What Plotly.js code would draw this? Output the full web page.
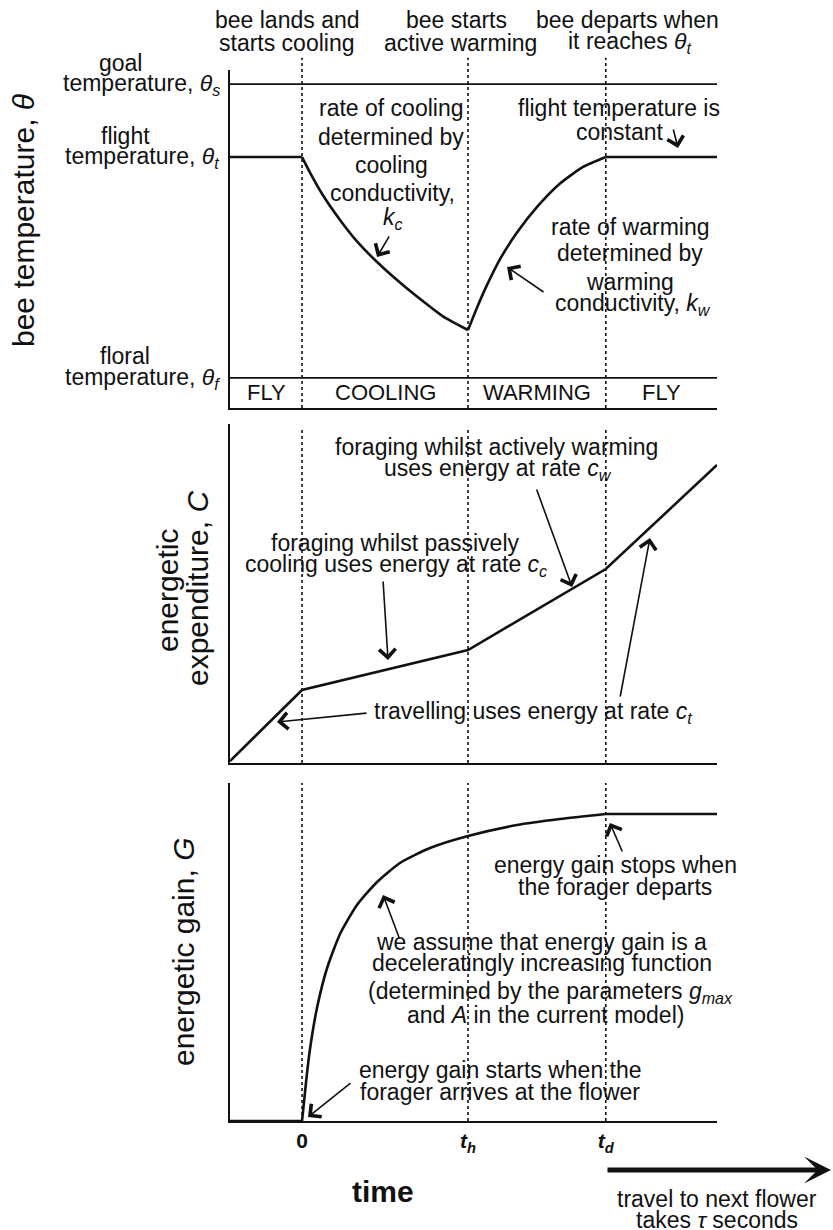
<!DOCTYPE html>
<html>
<head>
<meta charset="utf-8">
<script src="https://cdn.plot.ly/plotly-3.0.1.min.js"></script>
<style>html,body{margin:0;padding:0;background:#fff;}#chart{width:833px;height:1230px;}</style>
</head>
<body>
<div id="chart"></div>
<script>
// ---- key times (arbitrary units: 0 = arrival, 1 = t_h) ----
const tStart = -0.434;
const tArrive = 0;
const tWarmStart = 1.0;   // t_h
const tDepart = 1.83;     // t_d
const tEnd = 2.5;

// ---- panel 1: bee temperature ----
const thetaGoal = 1.33;
const thetaFlight = 1.0;
const thetaFloral = 0;
const tCooling = [0, 0.048, 0.127, 0.229, 0.331, 0.452, 0.590, 0.729, 0.849, 1.0];
const thetaCooling = [1.0, 0.93, 0.826, 0.715, 0.618, 0.525, 0.432, 0.347, 0.279, 0.217];
const tWarming = [1.0, 1.054, 1.114, 1.193, 1.295, 1.416, 1.554, 1.693, 1.83];
const thetaWarming = [0.217, 0.318, 0.42, 0.538, 0.658, 0.774, 0.88, 0.955, 1.0];
const phaseLabels = ['FLY', 'COOLING', 'WARMING', 'FLY'];
const phaseBounds = [tStart, tArrive, tWarmStart, tDepart, tEnd];

// ---- panel 2: energetic expenditure ----
const tCost = [-0.434, 0, 1.0, 1.83, 2.5];
const costValues = [0.02, 0.73, 1.13, 1.94, 2.98];

// ---- panel 3: energetic gain ----
const tGain = [0, 0.028, 0.048, 0.090, 0.151, 0.229, 0.331, 0.452, 0.590, 0.771, 1.0, 1.295, 1.554, 1.83];
const gainValues = [0, 0.45, 0.72, 1.13, 1.53, 1.87, 2.16, 2.39, 2.58, 2.73, 2.85, 2.96, 3.02, 3.07];

// ---- tick labels ----
const tickTimes = [tArrive, tWarmStart, tDepart];
const tickLabels = ['<b>0</b>', '<b><i>t</i><sub><i>h</i></sub></b>', '<b><i>t</i><sub><i>d</i></sub></b>'];

const FONT = 'Liberation Sans, Arial, Helvetica, sans-serif';
const BLACK = '#111';
const LW = 2.6;

function line(x, y, xa, ya, shape) {
  return {x: x, y: y, xaxis: xa, yaxis: ya, mode: 'lines', hoverinfo: 'skip',
          line: {color: BLACK, width: LW, shape: shape || 'linear', smoothing: 0.6}};
}

const gainFinal = gainValues[gainValues.length - 1];
const traces = [
  line([tStart, tArrive], [thetaFlight, thetaFlight], 'x', 'y'),
  line(tCooling, thetaCooling, 'x', 'y', 'spline'),
  line(tWarming, thetaWarming, 'x', 'y', 'spline'),
  line([tDepart, tEnd], [thetaFlight, thetaFlight], 'x', 'y'),
  line(tCost, costValues, 'x2', 'y2'),
  line([tStart, tArrive], [0, 0], 'x3', 'y3'),
  line(tGain, gainValues, 'x3', 'y3', 'spline'),
  line([tDepart, tEnd], [gainFinal, gainFinal], 'x3', 'y3')
];

// pixel helpers for text placement (layout only)
const PX = px => (px - 230) / 487;
const PY = py => 1 - py / 1230;

const annotations = [];
function txt(s, px, py, o) {
  o = o || {};
  annotations.push(Object.assign({
    text: s, xref: 'paper', yref: 'paper', x: PX(px), y: PY(py),
    xanchor: 'center', yanchor: 'middle', showarrow: false,
    font: {family: FONT, size: 23, color: BLACK}, borderpad: 0
  }, o));
}
function arrow(xa, ya, x, y, ax, ay) {
  annotations.unshift({
    text: '', xref: xa, yref: ya, x: x, y: y, ax: ax, ay: ay,
    showarrow: true, arrowhead: 4, arrowsize: 2.0, arrowwidth: 1.6,
    arrowcolor: BLACK, standoff: 0
  });
}

// header texts
txt('bee lands and', 287, 20);
txt('starts cooling', 287, 43);
txt('bee starts', 456, 20);
txt('active warming', 460, 43);
txt('bee departs when', 627, 20);
txt('it reaches <i>θ</i><sub><i>t</i></sub>', 630, 43);

// left labels
txt('goal', 120, 63);
txt('temperature, <i>θ</i><sub><i>s</i></sub>', 221, 85, {xanchor: 'right'});
txt('flight', 125, 136);
txt('temperature, <i>θ</i><sub><i>t</i></sub>', 221, 158, {xanchor: 'right'});
txt('floral', 125, 356);
txt('temperature, <i>θ</i><sub><i>f</i></sub>', 221, 378, {xanchor: 'right'});

// y titles
const TF = {family: FONT, size: 30, color: BLACK};
txt('bee temperature, <i>θ</i>', 24, 220, {textangle: -90, font: TF});
txt('energetic', 167, 591, {textangle: -90, font: TF});
txt('expenditure, <i>C</i>', 197, 589, {textangle: -90, font: TF});
txt('energetic gain, <i>G</i>', 184, 952, {textangle: -90, font: TF});

// panel 1 body
txt('rate of cooling', 391, 108);
txt('determined by', 391, 137);
txt('cooling', 391, 165);
txt('conductivity,', 392, 193);
txt('<i>k</i><sub><i>c</i></sub>', 393, 218);
txt('flight temperature is', 619, 108);
txt('constant', 620, 132);
txt('rate of warming', 630, 227);
txt('determined by', 630, 253);
txt('warming', 630, 282);
txt('conductivity, <i>k</i><sub><i>w</i></sub>', 633, 305);
for (let i = 0; i < phaseLabels.length; i++) {
  annotations.push({text: phaseLabels[i], xref: 'x', yref: 'y',
    x: (phaseBounds[i] + phaseBounds[i + 1]) / 2, y: (thetaFloral + (-0.136)) / 2,
    showarrow: false, xanchor: 'center', yanchor: 'middle',
    font: {family: FONT, size: 22, color: BLACK}});
}

// panel 2 body
txt('foraging whilst actively warming', 496, 447);
txt('uses energy at rate <i>c</i><sub><i>w</i></sub>', 498, 470);
txt('foraging whilst passively', 395, 543);
txt('cooling uses energy at rate <i>c</i><sub><i>c</i></sub>', 396, 565);
txt('travelling uses energy at rate <i>c</i><sub><i>t</i></sub>', 533, 712);

// panel 3 body
txt('energy gain stops when', 615, 865);
txt('the forager departs', 615, 887);
txt('we assume that energy gain is a', 541, 942);
txt('deceleratingly increasing function', 542, 963);
txt('(determined by the parameters <i>g</i><sub><i>max</i></sub>', 550, 992);
txt('and <i>A</i> in the current model)', 545, 1015);
txt('energy gain starts when the', 500, 1070);
txt('forager arrives at the flower', 500, 1092);

// bottom
txt('<b>time</b>', 383, 1191, {font: TF});
txt('travel to next flower', 717, 1199);
txt('takes <i>τ</i> seconds', 717, 1220);

// arrows (head at data point, tail offset in px)
arrow('x', 'y', 0.452, 0.548, 13, -22);
arrow('x', 'y', 2.265, 1.041, -5, -20);
arrow('x', 'y', 1.235, 0.502, 38, 26);
arrow('x2', 'y2', 1.627, 1.76, -36, -99);
arrow('x2', 'y2', 0.518, 1.03, -5, -80);
arrow('x2', 'y2', -0.151, 0.41, 91, -9);
arrow('x2', 'y2', 2.096, 2.25, -30, 160);
arrow('x3', 'y3', 0.488, 2.26, 17, 45);
arrow('x3', 'y3', 0.036, 0.04, 44, -35);
arrow('x3', 'y3', 1.855, 2.98, 13, 30);
// travel arrow: from departure time to beyond the plot edge
annotations.push({text: '', xref: 'paper', yref: 'paper', x: PX(831), y: PY(1170),
  ax: -225, ay: 0,
  showarrow: true, arrowhead: 3, arrowsize: 0.9, arrowwidth: 5, arrowcolor: BLACK, standoff: 0});

// shapes
const shapes = [];
function vdot(xa, ya, xv, top) {
  shapes.push({type: 'line', xref: xa, yref: ya + ' domain', x0: xv, x1: xv, y0: 0, y1: top,
    line: {color: BLACK, width: 1.6, dash: 'dot'}, layer: 'below'});
}
[tArrive, tWarmStart, tDepart].forEach(t => {
  vdot('x', 'y', t, 1.036);
  vdot('x2', 'y2', t, 0.982);
  vdot('x3', 'y3', t, 1.0);
});
[thetaGoal, thetaFloral].forEach(v => {
  shapes.push({type: 'line', xref: 'x domain', yref: 'y', x0: 0, x1: 1, y0: v, y1: v,
    line: {color: BLACK, width: 1.8}});
});

function xax(anchor, extra) {
  return Object.assign({anchor: anchor, domain: [0, 1], range: [tStart, tEnd],
    showline: true, linewidth: 2.2, linecolor: BLACK, showgrid: false, zeroline: false,
    ticks: '', showticklabels: false, fixedrange: true}, extra || {});
}
function yax(anchor, dom, rng) {
  return {anchor: anchor, domain: dom, range: rng, showline: true, linewidth: 2.2,
    linecolor: BLACK, showgrid: false, zeroline: false, ticks: '', showticklabels: false, fixedrange: true};
}

const layout = {
  width: 833, height: 1230,
  margin: {l: 230, r: 116, t: 0, b: 0},
  paper_bgcolor: '#fff', plot_bgcolor: 'rgba(0,0,0,0)',
  showlegend: false,
  font: {family: FONT, color: BLACK},
  xaxis: xax('y'),
  yaxis: yax('x', [0.66829, 0.94309], [-0.136, 1.394]),
  xaxis2: xax('y2'),
  yaxis2: yax('x2', [0.37967, 0.65528], [0, 3.39]),
  xaxis3: xax('y3', {showticklabels: true, tickvals: tickTimes, ticktext: tickLabels,
    tickfont: {family: FONT, size: 21, color: BLACK}, ticklabelstandoff: 0}),
  yaxis3: yax('x3', [0.08862, 0.36341], [0, 3.38]),
  annotations: annotations,
  shapes: shapes
};

Plotly.newPlot('chart', traces, layout, {displayModeBar: false, staticPlot: true});
</script>
</body>
</html>
